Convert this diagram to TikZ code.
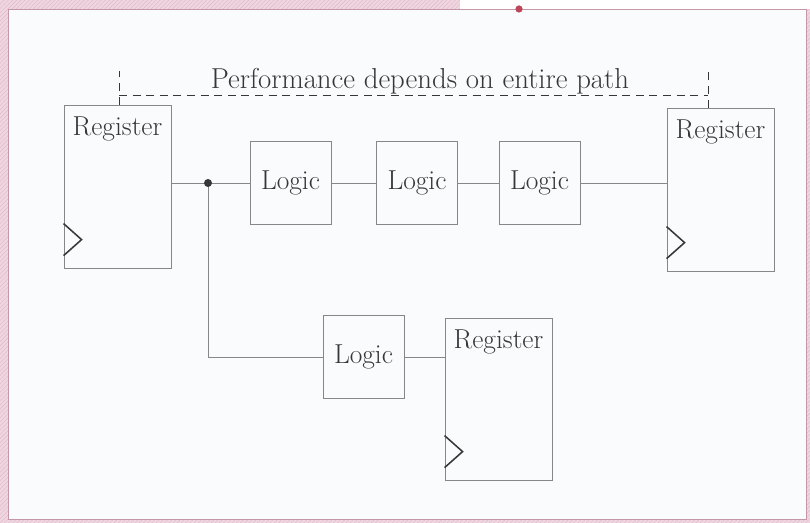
\documentclass[tikz,border=0pt]{standalone}
\usepackage{xcolor}
\usepackage{tikz}
\usetikzlibrary{
arrows.meta,
positioning,
calc,
patterns
}
\definecolor{pgpink}{RGB}{240,214,224}
\definecolor{pghatch}{RGB}{226,190,204}
\definecolor{pgpanel}{RGB}{250,251,252}
\definecolor{pgedge}{RGB}{196,150,166}
\definecolor{pgred}{RGB}{190,70,90}
\definecolor{wirgray}{RGB}{135,135,138}
\definecolor{inkgray}{RGB}{55,55,58}

\begin{document}
\begin{tikzpicture}[
  every node/.style={font=\fontsize{19.5}{22}\selectfont, text=inkgray},
  regbox/.style={draw=wirgray, line width=0.6pt, minimum width=2.675cm,
                 minimum height=4.075cm, inner sep=0pt},
  logicbox/.style={draw=wirgray, line width=0.6pt, minimum width=2.025cm,
                   minimum height=2.075cm, inner sep=0pt},
  wire/.style={wirgray, line width=0.6pt},
  clk/.style={inkgray, line width=1.1pt},
  pathmark/.style={inkgray, line width=0.7pt, dash pattern=on 0.2cm off 0.14cm}
]
\useasboundingbox (0,0) rectangle (20.25,13.075);

%% ── PAGE ───────────────────────────────────────────────────
\fill[pgpink] (0,0) rectangle (20.25,13.075);
\fill[pattern=north east lines, pattern color=pghatch] (0,0) rectangle (20.25,13.075);
\fill[white] (11.5,12.85) rectangle (20.25,13.075);
\filldraw[fill=pgpanel, draw=pgedge, line width=0.5pt]
  (0.2,0.1) rectangle (20.15,12.85);
\fill[pgred] (12.975,12.85) circle (0.09);

%% ── REGISTERS ──────────────────────────────────────────────
\node[regbox] (regL) at (2.9375, 8.4125) {};
\node[regbox] (regR) at (18.0125, 8.3375) {};
\node[regbox, minimum height=4.05cm] (regB) at (12.4625, 3.1) {};

\foreach \r in {regL, regR, regB}
{
  \node[anchor=base, yshift=-0.78cm] (\r-txt) at (\r.north) {Register};
  \draw[clk] ([yshift=1.12cm]\r.south west) -- ++(0.45,-0.4) -- ++(-0.45,-0.4);
}

%% ── LOGIC BLOCKS ───────────────────────────────────────────
\node[logicbox] (lg1) at (7.2625, 8.5) {Logic};
\node[logicbox] (lg2) at (10.425, 8.5) {Logic};
\node[logicbox] (lg3) at (13.4875, 8.5) {Logic};
\node[logicbox] (lg4) at (9.0875, 4.15) {Logic};

%% Wires
\coordinate (split) at (5.2, 8.5);
\draw[wire] (regL.east |- split) -- (lg1.west);
\draw[wire] (lg1.east) -- (lg2.west);
\draw[wire] (lg2.east) -- (lg3.west);
\draw[wire] (lg3.east) -- (lg3.east -| regR.west);
\draw[wire] (split) |- (lg4.west);
\draw[wire] (lg4.east) -- (lg4.east -| regB.west);
\fill[inkgray] (split) circle (0.1);

%% ── CRITICAL PATH MARK ─────────────────────────────────────
\coordinate (markL) at (2.975, 10.7);
\coordinate (markR) at (17.7, 10.7);
\draw[pathmark] (markL |- regL.north) -- (2.975, 11.3);
\draw[pathmark] (markR |- regR.north) -- (17.7, 11.3);
\draw[pathmark] (markL) -- (markR);
\node[font=\fontsize{20.5}{24}\selectfont] (title) at (10.5, 11.05)
  {Performance depends on entire path};

\end{tikzpicture}
\end{document}
